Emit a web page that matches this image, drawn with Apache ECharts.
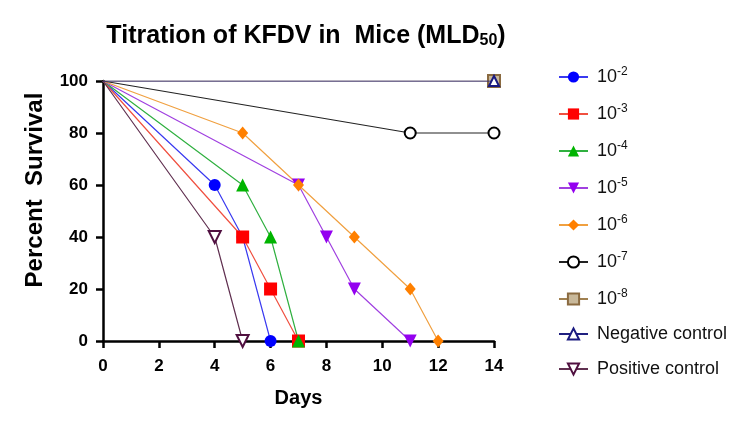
<!DOCTYPE html>
<html><head><meta charset="utf-8">
<script src="https://cdn.jsdelivr.net/npm/echarts@6/dist/echarts.min.js"></script>
<style>html,body{margin:0;padding:0;background:#fff}#c{width:750px;height:429px}</style>
</head><body><div id="c"></div>
<script>
const seriesNames = ['10^-2','10^-3','10^-4','10^-5','10^-6','10^-7','10^-8','Negative control','Positive control'];
const days_m2 = [0,4,5,6];      const surv_m2 = [100,60,40,0];
const days_m3 = [0,5,6,7];      const surv_m3 = [100,40,20,0];
const days_m4 = [0,5,6,7];      const surv_m4 = [100,60,40,0];
const days_m5 = [0,7,8,9,11];   const surv_m5 = [100,60,40,20,0];
const days_m6 = [0,5,7,9,11,12];const surv_m6 = [100,80,60,40,20,0];
const days_m7 = [0,11,14];      const surv_m7 = [100,80,80];
const days_m8 = [0,14];         const surv_m8 = [100,100];
const days_neg = [0,14];        const surv_neg = [100,100];
const days_pos = [0,4,5];       const surv_pos = [100,40,0];
const xTicks = [0,2,4,6,8,10,12,14];
const yTicks = [0,20,40,60,80,100];

const downTri = 'path://M0,0 L10,0 L5,9 Z';
const styles = [
  {line:'#3a3af0', color:'#0000ff', symbol:'circle', size:12, fill:true},
  {line:'#f05040', color:'#ff0000', symbol:'rect', size:13, fill:true},
  {line:'#30b040', color:'#00b400', symbol:'triangle', size:13, fill:true},
  {line:'#a040e0', color:'#9400f0', symbol:downTri, size:13, fill:true},
  {line:'#f0a040', color:'#ff8000', symbol:'diamond', size:[11,13], fill:true},
  {line:'#222222', color:'#000000', symbol:'circle', size:11, fill:false},
  {line:'#a08050', color:'#8a6a40', symbol:'rect', size:12, fill:false},
  {line:'#202080', color:'#1a1a80', symbol:'triangle', size:10, fill:false},
  {line:'#603050', color:'#501040', symbol:downTri, size:12, fill:false}
];
const allDays = [days_m2,days_m3,days_m4,days_m5,days_m6,days_m7,days_m8,days_neg,days_pos];
const allSurv = [surv_m2,surv_m3,surv_m4,surv_m5,surv_m6,surv_m7,surv_m8,surv_neg,surv_pos];

const series = seriesNames.map((n,i)=>{
  const s = styles[i];
  return {
    name: n, type:'line', symbol: s.symbol, symbolSize: s.size,
    lineStyle:{color:s.line, width:1.2},
    itemStyle: s.fill ? {color:s.color} : {color: i===6 ? '#c8b89a' : '#fff', borderColor:s.color, borderWidth:2},
    z: i===7 ? 5 : 2,
    data: allDays[i].map((d,k)=> k===0 ? {value:[d,allSurv[i][k]], symbol:'none'} : [d,allSurv[i][k]]),
    animation:false
  };
});

function legendFmt(n){
  if(n.startsWith('10^')) return '{b|10}{s|' + n.slice(3) + '}';
  return '{b|' + n + '}';
}

const chart = echarts.init(document.getElementById('c'));
chart.setOption({
  backgroundColor:'#fff',
  title:{
    text:'{t|Titration of KFDV in  Mice (MLD}{sub|50}{t|)}',
    left:301, top:18, textAlign:'center',
    textStyle:{rich:{
      t:{fontFamily:'Liberation Sans', fontWeight:'bold', fontSize:25, color:'#000'},
      sub:{fontFamily:'Liberation Sans', fontWeight:'bold', fontSize:16, color:'#000', verticalAlign:'bottom', padding:[10,0,0,0]}
    }}
  },
  legend:{
    orient:'vertical', left:553, top:61, itemWidth:29, itemHeight:14, itemGap:17,
    data: seriesNames,
    formatter: legendFmt,
    textStyle:{fontFamily:'Liberation Sans', fontSize:18, color:'#111', padding:[0,0,0,4], rich:{
      b:{fontFamily:'Liberation Sans', fontSize:18, color:'#111'},
      s:{fontFamily:'Liberation Sans', fontSize:12, color:'#111', verticalAlign:'top', padding:[0,0,10,0]}
    }}
  },
  grid:{left:103, right:256, top:81, bottom:88, containLabel:false},
  xAxis:{
    type:'value', min:0, max:14, interval:2,
    name:'Days', nameLocation:'middle', nameGap:47,
    nameTextStyle:{fontFamily:'Liberation Sans', fontWeight:'bold', fontSize:20, color:'#000'},
    axisLine:{lineStyle:{color:'#000', width:2.5}},
    axisTick:{show:true, length:7, lineStyle:{color:'#000', width:2.5}},
    axisLabel:{fontFamily:'Liberation Sans', fontWeight:'bold', fontSize:17, color:'#000', margin:17},
    splitLine:{show:false}
  },
  yAxis:{
    type:'value', min:0, max:100, interval:20,
    name:'Percent  Survival', nameLocation:'middle', nameGap:56,
    nameTextStyle:{fontFamily:'Liberation Sans', fontWeight:'bold', fontSize:24, color:'#000', padding:[0,0,0,42]},
    axisLine:{show:true, lineStyle:{color:'#000', width:2.5}},
    axisTick:{show:true, length:7, lineStyle:{color:'#000', width:2.5}},
    axisLabel:{fontFamily:'Liberation Sans', fontWeight:'bold', fontSize:17, color:'#000', margin:15},
    splitLine:{show:false}
  },
  series: series
});
</script></body></html>
